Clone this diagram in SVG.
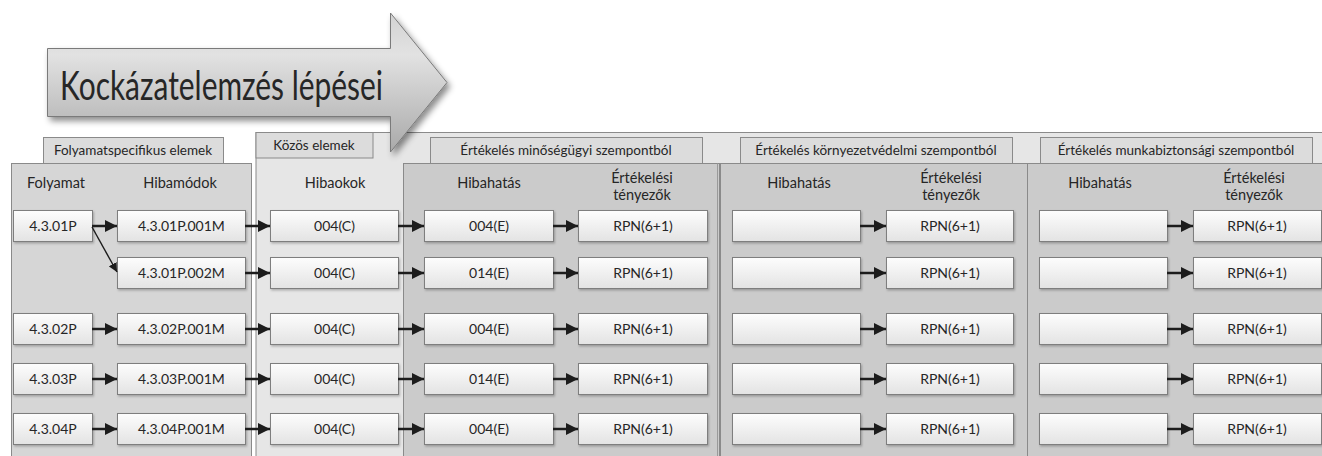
<svg xmlns="http://www.w3.org/2000/svg" width="1322" height="456" viewBox="0 0 1322 456">
<defs>
<linearGradient id="gArrow" x1="0" y1="0" x2="0" y2="1">
<stop offset="0" stop-color="#d2d2d2"/>
<stop offset="0.3" stop-color="#e2e2e2"/>
<stop offset="1" stop-color="#a9a9a9"/>
</linearGradient>
<linearGradient id="gNode" x1="0" y1="0" x2="0" y2="1">
<stop offset="0" stop-color="#fdfdfd"/>
<stop offset="1" stop-color="#e3e3e3"/>
</linearGradient>
<filter id="shArrow" x="-10%" y="-20%" width="130%" height="150%">
<feDropShadow dx="3" dy="4" stdDeviation="3" flood-color="#000" flood-opacity="0.45"/>
</filter>
<filter id="shNode" x="-5%" y="-10%" width="115%" height="140%">
<feDropShadow dx="1" dy="1.5" stdDeviation="0.8" flood-color="#000" flood-opacity="0.25"/>
</filter>
<marker id="ah" viewBox="0 0 12 12" refX="12" refY="6" markerWidth="12" markerHeight="12" markerUnits="userSpaceOnUse" orient="auto">
<path d="M0,0 L12,6 L0,12 Z" fill="#1c1c1c"/>
</marker>
<marker id="ahs" viewBox="0 0 10 10" refX="10" refY="5" markerWidth="9" markerHeight="9" markerUnits="userSpaceOnUse" orient="auto">
<path d="M0,0 L10,5 L0,10 Z" fill="#1c1c1c"/>
</marker>
</defs>
<style>
.panelL{fill:#d6d6d6;stroke:#8a8a8a;stroke-width:1}
.panelB{fill:#e6e6e6;stroke:#8a8a8a;stroke-width:1}
.panelE{fill:#cbcbcb;stroke:#8a8a8a;stroke-width:1}
.tab{fill:#dcdcdc;stroke:#8a8a8a;stroke-width:1}
.node rect{fill:url(#gNode);stroke:#7e7e7e;stroke-width:1;filter:url(#shNode)}
text{font-family:Lato,"Liberation Sans",sans-serif;fill:#262626}
.nt{font-size:14px;text-anchor:middle}
.ht{font-size:14.5px;text-anchor:middle}
.tt{font-size:13.5px;text-anchor:middle}
.conn line{stroke:#1c1c1c;stroke-width:2.5;marker-end:url(#ah)}
.conn line.thin{stroke-width:1.4;marker-end:url(#ahs)}
</style>
<rect x="0" y="0" width="1322" height="456" fill="#ffffff"/>

<g id="panels">
<rect class="panelB" x="256" y="132.5" width="1070" height="330"/>
<rect class="tab" x="43.5" y="137.5" width="180" height="26"/>
<rect class="panelL" x="11.5" y="163.5" width="240" height="300"/>
<rect class="tab" x="256" y="132.5" width="117" height="25.5"/>
<rect class="tab" x="430.5" y="137.5" width="272" height="26"/>
<rect class="tab" x="740.5" y="137.5" width="272" height="26"/>
<rect class="tab" x="1040.5" y="137.5" width="272" height="26"/>
<rect class="panelE" x="403.5" y="163.5" width="316" height="300"/>
<rect class="panelE" x="720.5" y="163.5" width="307" height="300"/>
<rect class="panelE" x="1027.5" y="163.5" width="300" height="300"/>
<line x1="717.5" y1="163.5" x2="717.5" y2="456" stroke="#9a9a9a" stroke-width="1"/>
</g>

<g id="headers">
<text class="tt" x="133" y="155">Folyamatspecifikus elemek</text>
<text class="tt" x="314" y="150">Közös elemek</text>
<text class="tt" x="566" y="155">Értékelés minőségügyi szempontból</text>
<text class="tt" x="876" y="155">Értékelés környezetvédelmi szempontból</text>
<text class="tt" x="1176" y="155">Értékelés munkabiztonsági szempontból</text>
<text class="ht" x="56" y="188">Folyamat</text>
<text class="ht" x="180" y="188">Hibamódok</text>
<text class="ht" x="335" y="188">Hibaokok</text>
<text class="ht" x="489" y="188">Hibahatás</text>
<text class="ht" x="642" y="183">Értékelési</text>
<text class="ht" x="642" y="200">tényezők</text>
<text class="ht" x="799" y="188">Hibahatás</text>
<text class="ht" x="951" y="183">Értékelési</text>
<text class="ht" x="951" y="200">tényezők</text>
<text class="ht" x="1100" y="188">Hibahatás</text>
<text class="ht" x="1254" y="183">Értékelési</text>
<text class="ht" x="1254" y="200">tényezők</text>
</g>

<g id="title-arrow">
<path d="M47.5,48.5 L390.5,48.5 L390.5,13 L447,82.5 L390.5,152 L390.5,116.5 L47.5,116.5 Z" fill="url(#gArrow)" stroke="#7a7a7a" stroke-width="1" filter="url(#shArrow)"/>
<text x="60" y="100" font-size="40" textLength="323" lengthAdjust="spacingAndGlyphs" fill="#2a2a2a">Kockázatelemzés lépései</text>
</g>

<g id="row1">
<g id="n-4301P" class="node"><rect x="13.5" y="210.5" width="79" height="31"/><text class="nt" x="53" y="231">4.3.01P</text></g>
<g id="n-4301P001M" class="node"><rect x="117.5" y="210.5" width="128" height="31"/><text class="nt" x="181.5" y="231">4.3.01P.001M</text></g>
<g id="n-r1-c3" class="node"><rect x="270.5" y="210.5" width="128" height="31"/><text class="nt" x="334.5" y="231">004(C)</text></g>
<g id="n-r1-c4" class="node"><rect x="424.5" y="210.5" width="129" height="31"/><text class="nt" x="489" y="231">004(E)</text></g>
<g id="n-r1-c5" class="node"><rect x="578.5" y="210.5" width="129" height="31"/><text class="nt" x="643" y="231">RPN(6+1)</text></g>
<g id="n-r1-c6" class="node"><rect x="732.5" y="210.5" width="128" height="31"/></g>
<g id="n-r1-c7" class="node"><rect x="886.5" y="210.5" width="127" height="31"/><text class="nt" x="950" y="231">RPN(6+1)</text></g>
<g id="n-r1-c8" class="node"><rect x="1039.5" y="210.5" width="128" height="31"/></g>
<g id="n-r1-c9" class="node"><rect x="1193.5" y="210.5" width="128" height="31"/><text class="nt" x="1257" y="231">RPN(6+1)</text></g>
</g>

<g id="row2">
<g id="n-4301P002M" class="node"><rect x="117.5" y="257.5" width="128" height="31"/><text class="nt" x="181.5" y="278">4.3.01P.002M</text></g>
<g id="n-r2-c3" class="node"><rect x="270.5" y="257.5" width="128" height="31"/><text class="nt" x="334.5" y="278">004(C)</text></g>
<g id="n-r2-c4" class="node"><rect x="424.5" y="257.5" width="129" height="31"/><text class="nt" x="489" y="278">014(E)</text></g>
<g id="n-r2-c5" class="node"><rect x="578.5" y="257.5" width="129" height="31"/><text class="nt" x="643" y="278">RPN(6+1)</text></g>
<g id="n-r2-c6" class="node"><rect x="732.5" y="257.5" width="128" height="31"/></g>
<g id="n-r2-c7" class="node"><rect x="886.5" y="257.5" width="127" height="31"/><text class="nt" x="950" y="278">RPN(6+1)</text></g>
<g id="n-r2-c8" class="node"><rect x="1039.5" y="257.5" width="128" height="31"/></g>
<g id="n-r2-c9" class="node"><rect x="1193.5" y="257.5" width="128" height="31"/><text class="nt" x="1257" y="278">RPN(6+1)</text></g>
</g>

<g id="row3">
<g id="n-4302P" class="node"><rect x="13.5" y="313.5" width="79" height="31"/><text class="nt" x="53" y="334">4.3.02P</text></g>
<g id="n-4302P001M" class="node"><rect x="117.5" y="313.5" width="128" height="31"/><text class="nt" x="181.5" y="334">4.3.02P.001M</text></g>
<g id="n-r3-c3" class="node"><rect x="270.5" y="313.5" width="128" height="31"/><text class="nt" x="334.5" y="334">004(C)</text></g>
<g id="n-r3-c4" class="node"><rect x="424.5" y="313.5" width="129" height="31"/><text class="nt" x="489" y="334">004(E)</text></g>
<g id="n-r3-c5" class="node"><rect x="578.5" y="313.5" width="129" height="31"/><text class="nt" x="643" y="334">RPN(6+1)</text></g>
<g id="n-r3-c6" class="node"><rect x="732.5" y="313.5" width="128" height="31"/></g>
<g id="n-r3-c7" class="node"><rect x="886.5" y="313.5" width="127" height="31"/><text class="nt" x="950" y="334">RPN(6+1)</text></g>
<g id="n-r3-c8" class="node"><rect x="1039.5" y="313.5" width="128" height="31"/></g>
<g id="n-r3-c9" class="node"><rect x="1193.5" y="313.5" width="128" height="31"/><text class="nt" x="1257" y="334">RPN(6+1)</text></g>
</g>

<g id="row4">
<g id="n-4303P" class="node"><rect x="13.5" y="363.5" width="79" height="31"/><text class="nt" x="53" y="384">4.3.03P</text></g>
<g id="n-4303P001M" class="node"><rect x="117.5" y="363.5" width="128" height="31"/><text class="nt" x="181.5" y="384">4.3.03P.001M</text></g>
<g id="n-r4-c3" class="node"><rect x="270.5" y="363.5" width="128" height="31"/><text class="nt" x="334.5" y="384">004(C)</text></g>
<g id="n-r4-c4" class="node"><rect x="424.5" y="363.5" width="129" height="31"/><text class="nt" x="489" y="384">014(E)</text></g>
<g id="n-r4-c5" class="node"><rect x="578.5" y="363.5" width="129" height="31"/><text class="nt" x="643" y="384">RPN(6+1)</text></g>
<g id="n-r4-c6" class="node"><rect x="732.5" y="363.5" width="128" height="31"/></g>
<g id="n-r4-c7" class="node"><rect x="886.5" y="363.5" width="127" height="31"/><text class="nt" x="950" y="384">RPN(6+1)</text></g>
<g id="n-r4-c8" class="node"><rect x="1039.5" y="363.5" width="128" height="31"/></g>
<g id="n-r4-c9" class="node"><rect x="1193.5" y="363.5" width="128" height="31"/><text class="nt" x="1257" y="384">RPN(6+1)</text></g>
</g>

<g id="row5">
<g id="n-4304P" class="node"><rect x="13.5" y="413.5" width="79" height="31"/><text class="nt" x="53" y="434">4.3.04P</text></g>
<g id="n-4304P001M" class="node"><rect x="117.5" y="413.5" width="128" height="31"/><text class="nt" x="181.5" y="434">4.3.04P.001M</text></g>
<g id="n-r5-c3" class="node"><rect x="270.5" y="413.5" width="128" height="31"/><text class="nt" x="334.5" y="434">004(C)</text></g>
<g id="n-r5-c4" class="node"><rect x="424.5" y="413.5" width="129" height="31"/><text class="nt" x="489" y="434">004(E)</text></g>
<g id="n-r5-c5" class="node"><rect x="578.5" y="413.5" width="129" height="31"/><text class="nt" x="643" y="434">RPN(6+1)</text></g>
<g id="n-r5-c6" class="node"><rect x="732.5" y="413.5" width="128" height="31"/></g>
<g id="n-r5-c7" class="node"><rect x="886.5" y="413.5" width="127" height="31"/><text class="nt" x="950" y="434">RPN(6+1)</text></g>
<g id="n-r5-c8" class="node"><rect x="1039.5" y="413.5" width="128" height="31"/></g>
<g id="n-r5-c9" class="node"><rect x="1193.5" y="413.5" width="128" height="31"/><text class="nt" x="1257" y="434">RPN(6+1)</text></g>
</g>

<g id="connectors" class="conn">
<line x1="92" y1="226" x2="117" y2="226"/>
<line class="thin" x1="92" y1="227" x2="117" y2="272"/>
<line x1="245" y1="226" x2="270" y2="226"/>
<line x1="398" y1="226" x2="424" y2="226"/>
<line x1="553" y1="226" x2="578" y2="226"/>
<line x1="860" y1="226" x2="886" y2="226"/>
<line x1="1167" y1="226" x2="1193" y2="226"/>

<line x1="245" y1="273" x2="270" y2="273"/>
<line x1="398" y1="273" x2="424" y2="273"/>
<line x1="553" y1="273" x2="578" y2="273"/>
<line x1="860" y1="273" x2="886" y2="273"/>
<line x1="1167" y1="273" x2="1193" y2="273"/>

<line x1="92" y1="329" x2="117" y2="329"/>
<line x1="245" y1="329" x2="270" y2="329"/>
<line x1="398" y1="329" x2="424" y2="329"/>
<line x1="553" y1="329" x2="578" y2="329"/>
<line x1="860" y1="329" x2="886" y2="329"/>
<line x1="1167" y1="329" x2="1193" y2="329"/>

<line x1="92" y1="379" x2="117" y2="379"/>
<line x1="245" y1="379" x2="270" y2="379"/>
<line x1="398" y1="379" x2="424" y2="379"/>
<line x1="553" y1="379" x2="578" y2="379"/>
<line x1="860" y1="379" x2="886" y2="379"/>
<line x1="1167" y1="379" x2="1193" y2="379"/>

<line x1="92" y1="429" x2="117" y2="429"/>
<line x1="245" y1="429" x2="270" y2="429"/>
<line x1="398" y1="429" x2="424" y2="429"/>
<line x1="553" y1="429" x2="578" y2="429"/>
<line x1="860" y1="429" x2="886" y2="429"/>
<line x1="1167" y1="429" x2="1193" y2="429"/>
</g>
</svg>
